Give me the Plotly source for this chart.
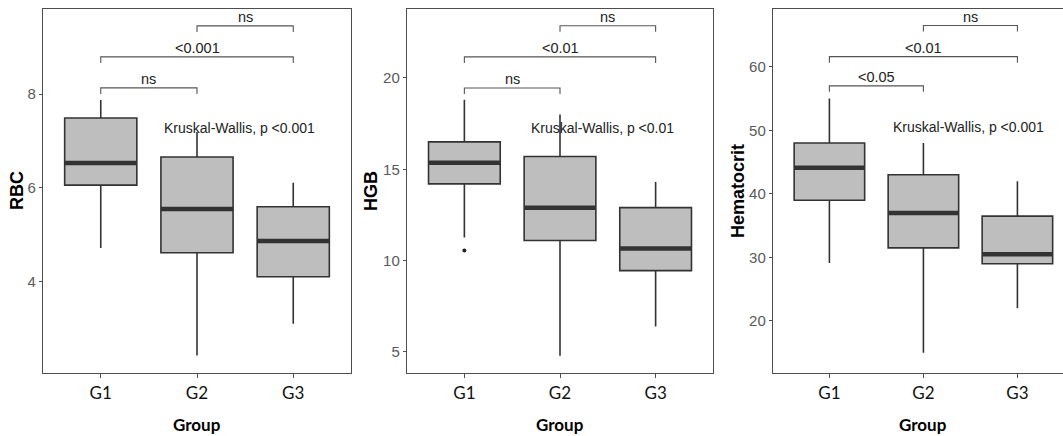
import plotly.graph_objects as go

# ---------------- data ----------------
groups = ["G1", "G2", "G3"]
group_pos = [0, 1, 2]

rbc_lo = [4.72, 2.43, 3.11]
rbc_q1 = [6.06, 4.62, 4.11]
rbc_med = [6.53, 5.55, 4.87]
rbc_q3 = [7.49, 6.66, 5.60]
rbc_hi = [7.87, 7.19, 6.11]

hgb_lo = [11.26, 4.8, 6.4]
hgb_q1 = [14.2, 11.1, 9.45]
hgb_med = [15.36, 12.9, 10.66]
hgb_q3 = [16.5, 15.7, 12.9]
hgb_hi = [18.8, 18.0, 14.3]
hgb_outlier_group = [0]
hgb_outlier_value = [10.55]

hct_lo = [29.1, 15.0, 22.0]
hct_q1 = [39.0, 31.5, 29.0]
hct_med = [44.1, 37.0, 30.5]
hct_q3 = [48.0, 43.0, 36.5]
hct_hi = [55.0, 48.0, 42.0]

pairs = [(0, 1), (0, 2), (1, 2)]
rbc_pair_labels = ["ns", "<0.001", "ns"]
rbc_pair_y = [8.13, 8.79, 9.45]
hgb_pair_labels = ["ns", "<0.01", "ns"]
hgb_pair_y = [19.45, 21.15, 22.85]
hct_pair_labels = ["<0.05", "<0.01", "ns"]
hct_pair_y = [57.0, 61.6, 66.5]

kw_labels = ["Kruskal-Wallis, p <0.001", "Kruskal-Wallis, p <0.01", "Kruskal-Wallis, p <0.001"]
kw_x = [1.44, 1.44, 1.48]
kw_y = [7.27, 17.27, 50.6]

y_titles = ["RBC", "HGB", "Hematocrit"]
y_ticks = [[4, 6, 8], [5, 10, 15, 20], [20, 30, 40, 50, 60]]
y_ranges = [[2.06, 9.81], [3.85, 23.77], [11.8, 69.1]]
x_ranges = [[-0.6, 2.6], [-0.6, 2.6], [-0.6, 2.485]]

# ---------------- layout geometry (pixels) ----------------
W, H = 1063, 436
panel_px = [(43, 351), (407, 713), (773, 1063)]
top_px, bot_px = 9, 373
ytitle_px = [17, 371, 738]
xtitle_y_px = 424
tip_px = 6

BOX_W = 0.75
FILL = "#BEBEBE"
EDGE = "#333333"
FRAME = "#4D4D4D"
TICKGREY = "#5A5A5A"

panels = [
    (rbc_lo, rbc_q1, rbc_med, rbc_q3, rbc_hi, pairs, rbc_pair_labels, rbc_pair_y),
    (hgb_lo, hgb_q1, hgb_med, hgb_q3, hgb_hi, pairs, hgb_pair_labels, hgb_pair_y),
    (hct_lo, hct_q1, hct_med, hct_q3, hct_hi, pairs, hct_pair_labels, hct_pair_y),
]

fig = go.Figure()
annotations = []
layout = {}

for p, (lo, q1, med, q3, hi, prs, plabels, py) in enumerate(panels):
    sfx = "" if p == 0 else str(p + 1)
    xa, ya = "x" + sfx, "y" + sfx
    yr = y_ranges[p]
    data_per_px = (yr[1] - yr[0]) / (bot_px - top_px)
    tip = tip_px * data_per_px

    for i in range(len(groups)):
        fig.add_trace(go.Box(
            x=[group_pos[i]], q1=[q1[i]], median=[med[i]], q3=[q3[i]],
            lowerfence=[lo[i]], upperfence=[hi[i]],
            width=BOX_W, whiskerwidth=0, boxpoints=False,
            fillcolor=FILL, line=dict(color=EDGE, width=1.6),
            xaxis=xa, yaxis=ya, showlegend=False, hoverinfo="skip",
        ))
        # thick median bar
        fig.add_trace(go.Scatter(
            x=[group_pos[i] - BOX_W / 2, group_pos[i] + BOX_W / 2],
            y=[med[i], med[i]], mode="lines",
            line=dict(color=EDGE, width=4.5),
            xaxis=xa, yaxis=ya, showlegend=False, hoverinfo="skip",
        ))

    if p == 1:
        fig.add_trace(go.Scatter(
            x=[group_pos[g] for g in hgb_outlier_group], y=hgb_outlier_value,
            mode="markers", marker=dict(color="#222222", size=4),
            xaxis=xa, yaxis=ya, showlegend=False, hoverinfo="skip",
        ))

    # comparison brackets
    for (a, b), lab, yy in zip(prs, plabels, py):
        fig.add_trace(go.Scatter(
            x=[group_pos[a], group_pos[a], group_pos[b], group_pos[b]],
            y=[yy - tip, yy, yy, yy - tip], mode="lines",
            line=dict(color="#555555", width=1.1),
            xaxis=xa, yaxis=ya, showlegend=False, hoverinfo="skip",
        ))
        annotations.append(dict(
            x=(group_pos[a] + group_pos[b]) / 2, y=yy, xref=xa, yref=ya,
            text=lab, showarrow=False, yanchor="bottom", yshift=-1,
            font=dict(family="Liberation Sans, Arial", size=14.5, color="#222222"),
        ))

    # Kruskal-Wallis text
    annotations.append(dict(
        x=kw_x[p], y=kw_y[p], xref=xa, yref=ya, text=kw_labels[p],
        showarrow=False, font=dict(family="Liberation Sans, Arial", size=14, color="#222222"),
    ))

    # axes
    x0, x1 = panel_px[p]
    layout["xaxis" + sfx] = dict(
        domain=[x0 / W, x1 / W], range=x_ranges[p], anchor=ya,
        tickmode="array", tickvals=group_pos, ticktext=groups,
        showgrid=False, zeroline=False, showline=True, mirror=True,
        linecolor=FRAME, linewidth=1.2,
        ticks="outside", ticklen=4, tickcolor=FRAME,
        tickfont=dict(family="Lato, Open Sans", size=17, color="#111111"),
    )
    layout["yaxis" + sfx] = dict(
        domain=[1 - bot_px / H, 1 - top_px / H], range=yr, anchor=xa,
        tickmode="array", tickvals=y_ticks[p],
        showgrid=False, zeroline=False, showline=True, mirror=True,
        linecolor=FRAME, linewidth=1.2,
        ticks="outside", ticklen=3, tickcolor=FRAME,
        tickfont=dict(family="Liberation Sans, Arial", size=15, color=TICKGREY),
    )

    # axis titles
    annotations.append(dict(
        x=ytitle_px[p] / W, y=1 - ((top_px + bot_px) / 2) / H, xref="paper", yref="paper",
        text="<b>" + y_titles[p] + "</b>", textangle=-90, showarrow=False,
        xanchor="center", yanchor="middle",
        font=dict(family="Liberation Sans, Arial", size=18, color="#000000"),
    ))
    full_w = 3.2 * (x1 - x0) / (x_ranges[p][1] - x_ranges[p][0])
    annotations.append(dict(
        x=(x0 + full_w / 2) / W,
        y=1 - xtitle_y_px / H, xref="paper", yref="paper",
        text="<b>Group</b>", showarrow=False, xanchor="center", yanchor="middle",
        font=dict(family="Lato, Open Sans", size=17, color="#000000"),
    ))

fig.update_layout(
    width=W, height=H,
    margin=dict(l=0, r=0, t=0, b=0),
    paper_bgcolor="white", plot_bgcolor="white",
    annotations=annotations,
    **layout,
)

fig.write_html(
    "out.html",
    config={"displayModeBar": False, "staticPlot": True},
    post_script="document.body.style.margin='0';document.body.style.overflow='hidden';",
)
